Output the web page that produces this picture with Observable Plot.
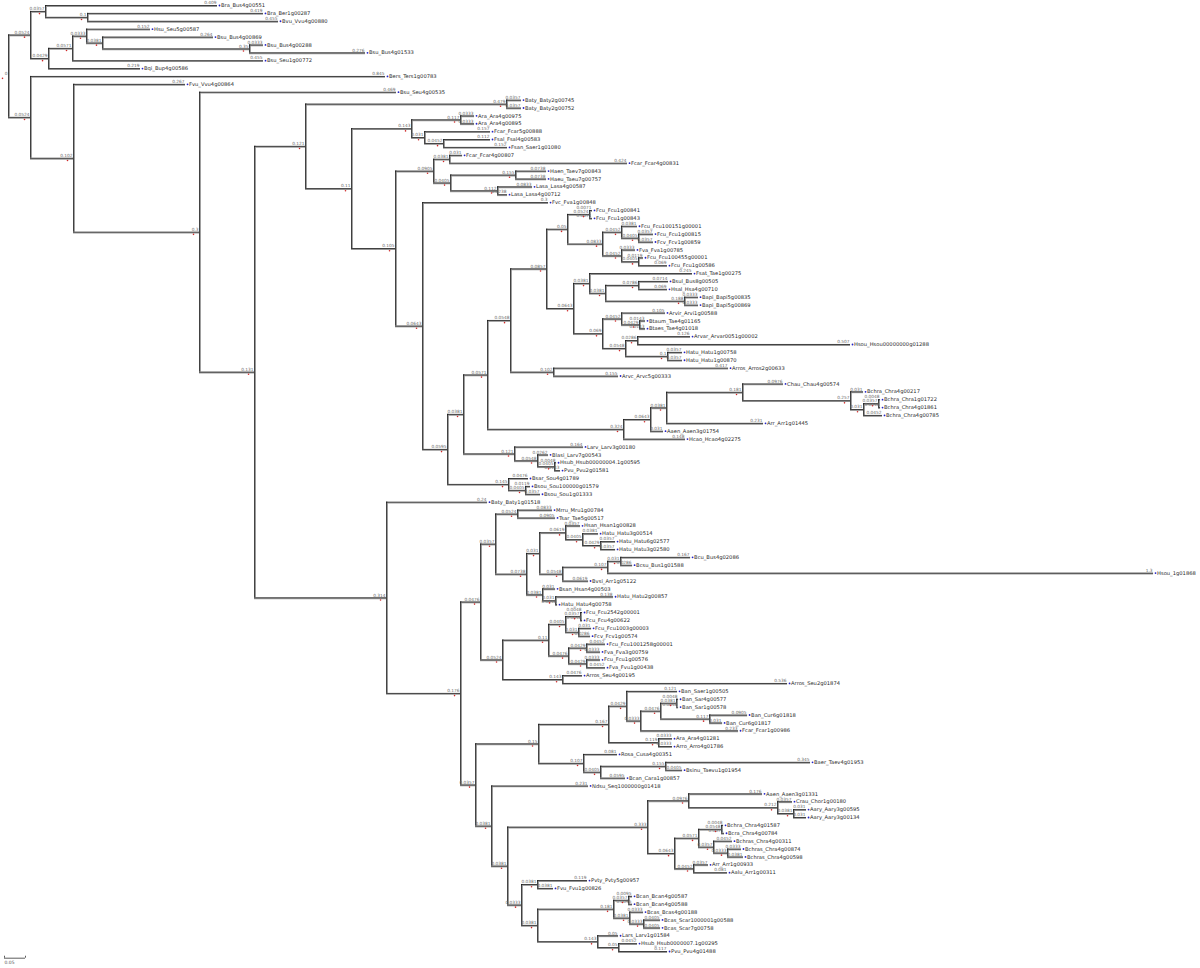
<!DOCTYPE html>
<html><head><meta charset="utf-8">
<script src="https://cdn.jsdelivr.net/npm/d3@7"></script>
<script src="https://cdn.jsdelivr.net/npm/@observablehq/plot@0.6"></script>
<style>html,body{margin:0;padding:0;background:#fff}</style>
</head><body><div id="chart"></div>
<script>
// ---- Data: clades in Newick form (branch lengths in substitutions/site) ----
const cladeTop = "((Bra_Bus4g00551:0.4095,(Bra_Ber1g00287:0.419,Bvu_Vvu4g00880:0.4548):0.1):0.0357,(((Hsu_Seu5g00587:0.1524,(Bsu_Bus4g00869:0.2643,(Bsu_Bus4g00288:0.0333,Bsu_Bus4g01533:0.2762):0.35):0.0381):0.0333,Bsu_Seu1g00772:0.4548):0.0571,Bqi_Bup4g00586:0.219):0.0429)";
const cladeBaty = "(Baty_Baty2g00745:0.0357,Baty_Baty2g00752:0.0357)";
const cladeO = "((Ara_Ara4g00975:0.0333,Ara_Ara4g00895:0.0333):0.1167,(Fcar_Fcar5g00888:0.1571,(Fsal_Fsal4g00583:0.1119,Fsan_Saer1g01080:0.1524):0.0452):0.031)";
const cladeT = "((Fcar_Fcar4g00807:0.031,Fcar_Fcar4g00831:0.4238):0.0381,((Haen_Taev7g00843:0.0738,Haeu_Taeu7g00757:0.0738):0.1548,(Lasa_Lasa4g00587:0.0833,Lasa_Lasa4g00712:0.0238):0.1119):0.0405)";
const cladeAH = "((Fcu_Fcu1g00841:0.0071,Fcu_Fcu1g00843:0.0071):0.0524,((Fcu_Fcu100151g00001:0.0381,(Fcu_Fcu1g00815:0.0357,Fcv_Fcv1g00859:0.0357):0.0405):0.0452,(Fva_Fva1g00785:0.0333,(Fcu_Fcu100455g00001:0.0119,Fcu_Fcu1g00586:0.069):0.0405):0.0452):0.0833)";
const cladeAI = "((Fsat_Tae1g00275:0.2452,((Bsul_Bus8g00505:0.0714,Hsal_Hsa4g00710:0.069):0.0786,(Bapi_Bapi5g00835:0.0333,Bapi_Bapi5g00869:0.0333):0.1881):0.0381):0.0381,((Arvir_Arvi1g00588:0.1048,(Btaum_Tae4g01165:0.0143,Btaes_Tae4g01018:0.0143):0.0429):0.0452,((Arvar_Arvar0051g00002:0.1262,Hsou_Hsou00000000g01288:0.5071):0.0286,(Hatu_Hatu1g00758:0.0357,Hatu_Hatu1g00870:0.0357):0.1):0.0548):0.069)";
const cladeAG = "(Arros_Arros2g00633:0.4167,Arvc_Arvc5g00333:0.1548)";
const cladeAE = "((((Chau_Chau4g00574:0.0976,(Bchra_Chra4g00217:0.031,((Bchra_Chra1g01722:0.0048,Bchra_Chra4g01861:0.0048):0.0357,Bchra_Chra4g00785:0.0452):0.031):0.2571):0.181,Arr_Arr1g01445:0.231):0.0381,Aaen_Aaen3g01754:0.031):0.0643,Hcao_Hcao4g02275:0.1476)";
const cladeAC = "(Larv_Larv3g00180:0.1643,(Blasi_Larv7g00543:0.0262,(Hsub_Hsub00000004.1g00595:0.0048,Pvu_Pvu2g01581:0.0143):0.0405):0.0548)";
const cladeBH = "(Bsar_Sou4g01789:0.0476,(Bsou_Sou100000g01579:0.0119,Bsou_Sou1g01333:0.0357):0.0405)";
const cladeBN = "(Mrru_Mru1g00784:0.0833,Tsar_Tae5g00517:0.0905)";
const cladeBP = "((Hsan_Hsan1g00828:0.0357,(Hatu_Hatu3g00514:0.0381,(Hatu_Hatu6g02577:0.0357,Hatu_Hatu3g02580:0.0357):0.0429):0.0405):0.0619,(((Bcu_Bus4g02086:0.1667,Bcsu_Bus1g01588:0.0286):0.031,Hsou_1g01868:1.30):0.1071,Bvsi_Arr1g05122:0.0619):0.0548)";
const cladeBQ = "(Bsan_Hsan4g00503:0.031,(Hatu_Hatu2g00857:0.1381,Hatu_Hatu4g00758:0.0048):0.031)";
const cladeBM = "((((Fcu_Fcu2542g00001:0.0048,Fcu_Fcu4g00622:0.0048):0.0357,(Fcu_Fcu1003g00003:0.031,Fcv_Fcv1g00574:0.0286):0.031):0.0405,((Fcu_Fcu1001258g00001:0.0452,Fva_Fva3g00759:0.0333):0.0429,(Fcu_Fcu1g00576:0.0333,Fva_Fvu1g00438:0.0452):0.0429):0.0476):0.1095,(Arros_Seu4g00195:0.0476,Arros_Seu2g01874:0.5357):0.1429)";
const cladeCJ = "((Ban_Saer1g00505:0.1214,(((Ban_Sar4g00577:0.0048,Ban_Sar1g00578:0.0048):0.0381,(Ban_Cur6g01818:0.0905,Ban_Cur6g01817:0.031):0.1167):0.0476,Fcar_Fcar1g00986:0.2333):0.0333):0.0429,(Ara_Ara4g01281:0.0333,Arro_Arro4g01786:0.0333):0.119)";
const cladeCK = "(Rosa_Cusa4g00351:0.081,((Baer_Taev4g01953:0.3452,Bsinu_Taevu1g01954:0.0405):0.1548,Bcan_Cara1g00857:0.0595):0.0405)";
const cladeCU = "((Aaen_Aaen3g01331:0.1762,(Crau_Chor1g00180:0.0357,(Aary_Aary3g00595:0.031,Aary_Aary3g00134:0.031):0.0381):0.2119):0.0976,(((Bchra_Chra4g01587:0.0048,Bcra_Chra4g00784:0.0071):0.0548,(Bchras_Chra4g00311:0.0452,(Bchras_Chra4g00874:0.0333,Bchras_Chra4g00598:0.0381):0.0333):0.0357):0.0571,(Arr_Arr1g00933:0.0357,Aalu_Arr1g00311:0.081):0.0452):0.0643)";
const cladeCV = "((Pvty_Pvty5g00957:0.119,Fvu_Fvu1g00826:0.0381):0.0381,(((Bcan_Bcan4g00587:0.0095,Bcan_Bcan4g00588:0.0095):0.0357,(Bcas_Bcas4g00188:0.0333,(Bcas_Scar1000001g00588:0.0405,Bcas_Scar7g00758:0.0405):0.0333):0.0381):0.181,(Lars_Larv1g01584:0.05,(Hsub_Hsub0000007.1g00295:0.0452,Pvu_Pvu4g01488:0.1167):0.05):0.1429):0.0381)";
const scaleBar = [{from: 0, to: 0.05, label: "0.05"}];

// ---- Assemble the full tree ----
const AF = `(${cladeAH}:0.05,${cladeAI}:0.0643)`;
const AD = `(${AF}:0.0857,${cladeAG}:0.1024)`;
const AB = `(${AD}:0.0548,${cladeAE}:0.3238)`;
const AA = `(${AB}:0.0571,${cladeAC}:0.1214)`;
const Z  = `(${AA}:0.0381,${cladeBH}:0.1452)`;
const U  = `(Fvc_Fva1g00848:0.3,${Z}:0.0595)`;
const P  = `(${cladeT}:0.0905,${U}:0.0643)`;
const N  = `(${cladeO}:0.1429,${P}:0.1048)`;
const K  = `(${cladeBaty}:0.4786,${N}:0.1095)`;
const BO = `(${cladeBP}:0.031,${cladeBQ}:0.0381)`;
const BL = `(${cladeBN}:0.0524,${BO}:0.0738)`;
const BK = `(${BL}:0.0357,${cladeBM}:0.0524)`;
const CH = `(${cladeCJ}:0.1667,${cladeCK}:0.1071)`;
const CT = `(${cladeCU}:0.3333,${cladeCV}:0.0333)`;
const CI = `(Ndsu_Seq1000000g01418:0.231,${CT}:0.0381)`;
const CG = `(${CH}:0.15,${CI}:0.0381)`;
const BJ = `(${BK}:0.0476,${CG}:0.0357)`;
const L  = `(Baty_Baty1g01518:0.2405,${BJ}:0.1762)`;
const J  = `(${K}:0.1214,${L}:0.3143)`;
const I  = `(Bsu_Seu4g00535:0.469,${J}:0.131)`;
const H  = `(Fvu_Vvu4g00864:0.2667,${I}:0.3)`;
const G  = `(Bers_Ters1g00783:0.8452,${H}:0.1024)`;
const newick = `(${cladeTop}:0.0524,${G}:0.0524)`;

function parseNewick(s) {
  let i = 0;
  function node() {
    const n = {children: []};
    if (s[i] === "(") {
      i++;
      n.children.push(node());
      while (s[i] === ",") { i++; n.children.push(node()); }
      i++;
    }
    const st = i;
    while (i < s.length && s[i] !== "," && s[i] !== ")") i++;
    const tok = s.slice(st, i);
    const k = tok.lastIndexOf(":");
    n.name = k < 0 ? tok : tok.slice(0, k);
    n.length = k < 0 ? 0 : +tok.slice(k + 1);
    return n;
  }
  return node();
}

const root = parseNewick(newick);
const nodes = [];
let leafIndex = 0;
(function lay(n, pd) {
  n.parentDepth = pd;
  n.depth = pd + n.length;
  if (!n.children.length) n.y = leafIndex++;
  else {
    n.children.forEach(c => lay(c, n.depth));
    n.y = (n.children[0].y + n.children[n.children.length - 1].y) / 2;
  }
  nodes.push(n);
})(root, 0);
const leafCount = leafIndex;
const leaves = nodes.filter(n => !n.children.length);
const internals = nodes.filter(n => n.children.length);
const edges = nodes.filter(n => n !== root);
const fmt = d3.format(".3~r");

const pxPerUnit = 420; // 0.05 = 21px
const chart = Plot.plot({
  width: 1200,
  height: 968,
  margin: 0,
  style: {fontFamily: "DejaVu Sans, sans-serif", background: "#fff"},
  x: {domain: [0, 2.8], range: [8, 8 + 2.8 * pxPerUnit], axis: null},
  y: {domain: [0, leafCount - 1], range: [5, 951], axis: null},
  marks: [
    // shadow strokes
    Plot.ruleY(edges, {y: "y", x1: "parentDepth", x2: "depth", stroke: "#9a9a9a", strokeWidth: 1.4, dy: 0.7}),
    Plot.ruleX(internals, {x: "depth", y1: d => d.children[0].y, y2: d => d.children[d.children.length - 1].y, stroke: "#9a9a9a", strokeWidth: 1.4, dx: 0.7}),
    // main strokes
    Plot.ruleY(edges, {y: "y", x1: "parentDepth", x2: "depth", stroke: "#1a1a1a", strokeWidth: 0.8}),
    Plot.ruleX(internals, {x: "depth", y1: d => d.children[0].y, y2: d => d.children[d.children.length - 1].y, stroke: "#1a1a1a", strokeWidth: 0.8}),
    // branch-length labels
    Plot.text(nodes, {x: "depth", y: "y", text: d => fmt(d.length), textAnchor: "end", dx: -1, dy: -2.6, fontSize: 4.3, fill: "#6a6a6a"}),
    // node markers
    Plot.dot(internals, {x: "depth", y: "y", r: 0.8, fill: "#d02a2a", dx: -6, dy: 2.2}),
    Plot.dot(leaves, {x: "depth", y: "y", r: 0.9, fill: "#2525c8", dx: 2}),
    // leaf names
    Plot.text(leaves, {x: "depth", y: "y", text: "name", textAnchor: "start", dx: 3.5, fontSize: 5.2, fill: "#2a2a2a"}),
    // scale bar
    Plot.ruleY(scaleBar, {x1: "from", x2: "to", y: d => leafCount - 1 + 0.85, stroke: "#333", strokeWidth: 0.8, dx: -4}),
    Plot.ruleX([0, 0.05], {x: d => d, y1: d => leafCount - 1 + 0.6, y2: d => leafCount - 1 + 0.85, stroke: "#333", strokeWidth: 0.8, dx: -4}),
    Plot.text(scaleBar, {x: "from", y: d => leafCount - 1 + 0.85, text: "label", textAnchor: "start", dx: -4, dy: 4.5, fontSize: 4.5, fill: "#555"})
  ]
});
document.getElementById("chart").appendChild(chart);
</script>
</body></html>
